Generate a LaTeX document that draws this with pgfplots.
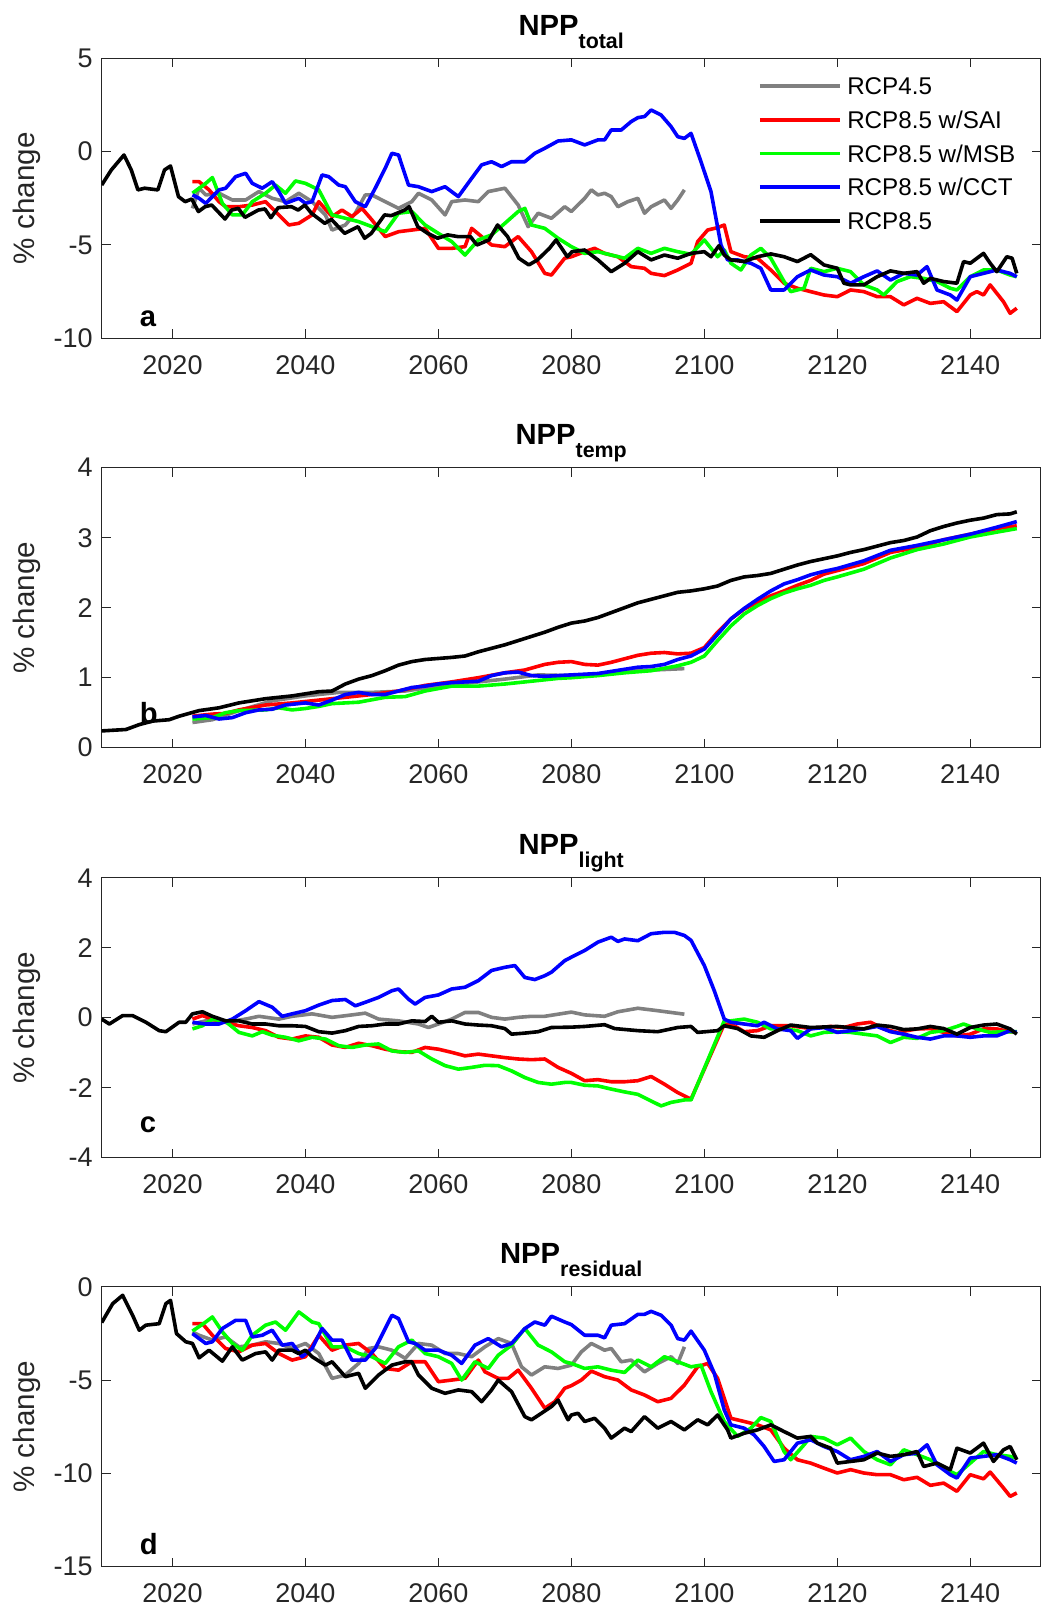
\documentclass[border=0pt]{standalone}
\usepackage{fontspec}
\setmainfont{Liberation Sans}
\usepackage{pgfplots}
\pgfplotsset{compat=1.18}
\definecolor{axgray}{rgb}{0.15,0.15,0.15}
\definecolor{cgray}{rgb}{0.5,0.5,0.5}
\definecolor{cred}{rgb}{1,0,0}
\definecolor{cgreen}{rgb}{0,1,0}
\definecolor{cblue}{rgb}{0,0,1}
\newcommand{\sub}[1]{\raisebox{-6.5pt}{\fontsize{10.7}{12}\selectfont\bfseries #1}}
\tikzset{plab/.style={anchor=base west, font=\fontsize{14.6}{17}\selectfont\bfseries}}
\pgfplotsset{
 panel/.style={
  width=469.5pt, height=140pt, scale only axis,
  xmin=2009.35, xmax=2150.6,
  xtick={2020,2040,2060,2080,2100,2120,2140},
  xticklabels={2020,2040,2060,2080,2100,2120,2140},
  minor tick num=0,
  tick align=inside,
  major tick length=4.5pt,
  axis line style={axgray, line width=0.5pt},
  every tick/.style={axgray, line width=0.5pt},
  ticklabel style={font=\fontsize{13.5}{16}\selectfont, text=axgray},
  xticklabel style={yshift=-5pt},
  yticklabel style={xshift=-1pt},
  ylabel={\% change},
  ylabel style={at={(axis description cs:-0.0795,0.5)}, anchor=center, font=\fontsize{14.8}{17}\selectfont, text=axgray},
  every axis title shift=0pt,
  title style={at={(axis description cs:0.5,1)}, anchor=base, yshift=11.5pt, font=\fontsize{14.6}{17}\selectfont\bfseries},
  every axis plot/.append style={line width=1.8pt, line join=round},
 }
}
\begin{document}
\begin{tikzpicture}
\useasboundingbox (0,0) rectangle (524pt,-806pt);

% ---------------- panel a
\begin{axis}[panel, at={(50.85pt,-29.15pt)}, anchor=north west,
  ymin=-10, ymax=5, ytick={-10,-5,0,5}, yticklabels={-10,-5,0,5},
  title={NPP\sub{total}},
  legend style={draw=none, fill=none, at={(axis description cs:0.699,0.932)}, anchor=north west,
    inner sep=0pt, outer sep=0pt, row sep=5.65pt, column sep=2.8pt,
    font=\fontsize{12.1}{14}\selectfont,
    nodes={inner sep=0pt, text height=8.7pt, text depth=2.5pt, anchor=base west},
    cells={anchor=base west}},
  legend image code/.code={\draw[#1] (0pt,4.3pt) -- (40pt,4.3pt);},
  legend entries={RCP4.5,RCP8.5 w/SAI,RCP8.5 w/MSB,RCP8.5 w/CCT,RCP8.5}]
\addplot[cgray] coordinates {(2023,-3.04) (2024,-1.96) (2025,-2.32) (2027,-2.23) (2029,-2.59) (2031,-2.59) (2033,-2.14) (2035,-2.5) (2037,-2.68) (2039,-2.23) (2041,-2.68) (2043,-3.39) (2044,-4.2) (2046,-3.93) (2047.5,-3.3) (2049,-2.32) (2050,-2.32) (2052,-2.68) (2054,-3.04) (2056,-2.68) (2057,-2.23) (2059,-2.59) (2061,-3.39) (2062,-2.68) (2064,-2.59) (2066,-2.68) (2067.5,-2.14) (2070,-1.96) (2072,-2.86) (2073.5,-4.02) (2075,-3.3) (2077,-3.57) (2079,-2.95) (2080,-3.21) (2082,-2.5) (2083,-2.05) (2084,-2.32) (2085,-2.23) (2086,-2.41) (2087,-2.95) (2088.5,-2.68) (2090,-2.5) (2091,-3.3) (2092,-2.95) (2094,-2.59) (2095,-3.04) (2096,-2.59) (2097,-2.05)};
\addplot[cred] coordinates {(2023,-1.61) (2024,-1.61) (2025.5,-2.05) (2027,-2.68) (2028,-2.95) (2030,-2.95) (2032,-2.86) (2034,-2.68) (2036,-3.39) (2037.5,-3.93) (2039,-3.84) (2041,-3.39) (2042,-2.68) (2044,-3.48) (2045.5,-3.13) (2047,-3.48) (2048.5,-3.04) (2050,-3.66) (2052,-4.55) (2054,-4.29) (2056,-4.2) (2058,-4.11) (2060,-5.18) (2062,-5.18) (2064,-5.09) (2065,-4.11) (2066.5,-4.55) (2068,-5.0) (2070,-5.09) (2072,-4.55) (2074,-5.36) (2076,-6.52) (2077,-6.61) (2079,-5.71) (2080,-5.63) (2082,-5.36) (2083.5,-5.18) (2085,-5.45) (2087,-5.63) (2089,-6.16) (2091,-6.25) (2092,-6.52) (2094,-6.64) (2096,-6.34) (2098,-5.98) (2099,-4.82) (2100.5,-4.2) (2102,-4.07) (2103,-3.93) (2104,-5.36) (2106,-5.63) (2108,-5.71) (2110,-6.34) (2112,-7.05) (2114,-7.32) (2116,-7.5) (2118,-7.68) (2120,-7.77) (2122,-7.41) (2124,-7.5) (2126,-7.77) (2128,-7.77) (2130,-8.21) (2132,-7.86) (2134,-8.13) (2136,-8.04) (2138,-8.57) (2140,-7.68) (2141,-7.5) (2142,-7.68) (2143,-7.14) (2145,-8.04) (2146,-8.66) (2147,-8.39)};
\addplot[cgreen] coordinates {(2023,-2.23) (2025,-1.7) (2026,-1.39) (2027.5,-2.77) (2029,-3.39) (2030.5,-3.39) (2032,-2.68) (2034,-2.23) (2035.5,-1.79) (2037,-2.23) (2038.5,-1.57) (2040,-1.7) (2042,-2.05) (2044,-3.39) (2046,-3.57) (2048,-3.75) (2050,-4.02) (2052,-4.29) (2054,-3.3) (2056,-3.21) (2058,-3.93) (2060,-4.38) (2062,-4.82) (2064,-5.54) (2066,-4.73) (2068,-4.46) (2070,-3.84) (2072,-3.21) (2073,-3.04) (2074,-3.93) (2076,-4.11) (2078,-4.64) (2080,-5.09) (2082,-5.45) (2084,-5.36) (2086,-5.54) (2088,-5.71) (2090,-5.18) (2092,-5.45) (2094,-5.18) (2096,-5.36) (2098,-5.5) (2100,-4.73) (2101,-5.18) (2102,-5.63) (2103,-5.27) (2104,-5.98) (2105.5,-6.34) (2107,-5.54) (2108.5,-5.18) (2110,-5.71) (2112,-6.96) (2113,-7.5) (2115,-7.32) (2116,-6.25) (2118,-6.43) (2120,-6.25) (2122,-6.43) (2124,-7.14) (2126,-7.41) (2127,-7.68) (2129,-6.96) (2131,-6.7) (2133,-6.79) (2135,-6.96) (2137,-7.32) (2138,-7.41) (2140,-6.7) (2142,-6.34) (2144,-6.34) (2146,-6.61) (2147,-6.7)};
\addplot[cblue] coordinates {(2023,-2.32) (2024,-2.5) (2025,-2.77) (2027,-2.05) (2028,-1.96) (2029.5,-1.34) (2031,-1.16) (2032,-1.7) (2033.5,-1.96) (2035,-1.61) (2036,-2.14) (2037,-2.77) (2039,-2.5) (2040,-2.77) (2041,-2.68) (2042.5,-1.25) (2043.5,-1.34) (2045,-1.79) (2046,-1.88) (2047.5,-2.68) (2049,-2.95) (2050.5,-1.96) (2052,-0.89) (2053,-0.09) (2054,-0.18) (2055.5,-1.79) (2057,-1.88) (2059,-2.14) (2061,-1.88) (2063,-2.41) (2065,-1.43) (2066.5,-0.71) (2068,-0.54) (2069.5,-0.8) (2071,-0.54) (2073,-0.54) (2074.5,-0.09) (2076,0.18) (2078,0.57) (2080,0.63) (2082,0.36) (2084,0.63) (2085,0.63) (2086,1.16) (2087.5,1.16) (2089,1.61) (2090,1.82) (2091,1.88) (2092,2.23) (2093.5,1.96) (2095,1.34) (2096,0.8) (2097,0.71) (2098,0.98) (2099.5,-0.54) (2101,-2.14) (2102.5,-5.0) (2103.5,-5.8) (2105,-5.8) (2107,-5.98) (2108.5,-6.25) (2110,-7.41) (2112,-7.41) (2114,-6.7) (2116,-6.34) (2118,-6.61) (2120,-6.7) (2122,-7.05) (2124,-6.7) (2126,-6.39) (2128,-6.88) (2130,-6.52) (2132,-6.61) (2133.5,-6.16) (2135,-7.41) (2137,-7.68) (2138,-7.95) (2140,-6.7) (2142,-6.52) (2144,-6.34) (2146,-6.52) (2147,-6.7)};
\addplot[black] coordinates {(2009.35,-1.79) (2010.8,-0.98) (2012.7,-0.18) (2013.8,-0.98) (2014.8,-2.05) (2015.8,-1.96) (2017.8,-2.05) (2018.8,-0.98) (2019.7,-0.77) (2020.9,-2.41) (2021.9,-2.68) (2022.9,-2.54) (2023.9,-3.21) (2024.9,-2.95) (2025.9,-2.86) (2027.9,-3.61) (2028.9,-3.13) (2029.9,-3.04) (2030.9,-3.52) (2032.9,-3.13) (2033.9,-3.07) (2034.8,-3.54) (2035.9,-3.0) (2037.9,-2.95) (2038.9,-3.13) (2039.9,-2.86) (2040.9,-3.3) (2042.9,-3.84) (2043.9,-3.63) (2045.9,-4.38) (2047.9,-4.02) (2048.9,-4.64) (2049.9,-4.38) (2051.9,-3.39) (2052.9,-3.43) (2054.9,-3.13) (2055.6,-2.95) (2056.9,-4.02) (2058.4,-4.38) (2059.9,-4.64) (2061.4,-4.46) (2062.9,-4.55) (2064.8,-4.55) (2065.8,-5.0) (2067.6,-4.73) (2068.9,-3.93) (2070.4,-4.55) (2072.1,-5.71) (2073.6,-6.07) (2074.9,-5.8) (2076.7,-5.18) (2077.7,-4.73) (2079.4,-5.63) (2080.1,-5.36) (2082,-5.27) (2084,-5.8) (2086,-6.43) (2088,-5.98) (2090,-5.36) (2092,-5.8) (2094,-5.54) (2096,-5.71) (2098,-5.45) (2100,-5.36) (2101,-5.63) (2102.2,-5.04) (2103,-5.54) (2104,-5.8) (2106,-5.89) (2108,-5.63) (2110,-5.48) (2112,-5.63) (2114,-5.89) (2116,-5.52) (2118,-6.07) (2120,-6.25) (2121,-7.05) (2122,-7.14) (2124,-7.14) (2126,-6.7) (2128,-6.39) (2130,-6.52) (2132,-6.43) (2133,-7.05) (2134,-6.79) (2136,-6.96) (2138,-7.05) (2139,-5.89) (2140,-5.98) (2142,-5.45) (2143,-5.98) (2144,-6.43) (2145.5,-5.63) (2146.3,-5.71) (2147,-6.52)};
\node[plab] at (rel axis cs:0.033,0.042) {a};
\end{axis}

% ---------------- panel b
\begin{axis}[panel, at={(50.85pt,-233.85pt)}, anchor=north west,
  ymin=0, ymax=4, ytick={0,1,2,3,4}, yticklabels={0,1,2,3,4},
  title={NPP\sub{temp}}]
\addplot[cgray] coordinates {(2023,0.36) (2026,0.40) (2030,0.53) (2035,0.67) (2040,0.74) (2045,0.79) (2050,0.79) (2055,0.81) (2060,0.88) (2065,0.93) (2070,0.98) (2075,1.04) (2080,1.03) (2085,1.06) (2090,1.10) (2097,1.13)};
\addplot[cred] coordinates {(2023,0.45) (2026,0.48) (2028,0.49) (2030,0.54) (2034,0.61) (2038,0.64) (2042,0.68) (2046,0.72) (2050,0.76) (2054,0.81) (2058,0.89) (2062,0.94) (2066,1.00) (2070,1.07) (2073,1.11) (2076,1.19) (2078,1.22) (2080,1.23) (2082,1.19) (2084,1.18) (2086,1.22) (2088,1.27) (2090,1.32) (2092,1.35) (2094,1.36) (2096,1.34) (2098,1.35) (2100,1.43) (2102,1.65) (2104,1.84) (2106,1.98) (2108,2.08) (2110,2.17) (2112,2.24) (2114,2.32) (2116,2.39) (2118,2.48) (2120,2.53) (2124,2.63) (2128,2.79) (2132,2.86) (2136,2.97) (2140,3.05) (2144,3.13) (2147,3.17)};
\addplot[cgreen] coordinates {(2023,0.41) (2026,0.43) (2028,0.50) (2030,0.53) (2034,0.54) (2036,0.57) (2038,0.54) (2040,0.56) (2042,0.59) (2044,0.63) (2048,0.65) (2052,0.72) (2055,0.73) (2058,0.81) (2062,0.88) (2066,0.88) (2070,0.91) (2074,0.95) (2078,0.99) (2080,1.00) (2084,1.03) (2088,1.07) (2092,1.10) (2096,1.17) (2098,1.22) (2100,1.31) (2102,1.53) (2104,1.74) (2106,1.91) (2108,2.03) (2110,2.13) (2112,2.21) (2114,2.27) (2116,2.32) (2118,2.39) (2120,2.44) (2124,2.55) (2128,2.71) (2132,2.83) (2136,2.91) (2140,3.01) (2144,3.08) (2147,3.13)};
\addplot[cblue] coordinates {(2023,0.44) (2025,0.46) (2027,0.41) (2029,0.43) (2031,0.50) (2033,0.54) (2035,0.55) (2037,0.61) (2040,0.64) (2042,0.61) (2044,0.68) (2046,0.76) (2048,0.79) (2050,0.76) (2052,0.76) (2054,0.81) (2056,0.86) (2058,0.88) (2060,0.91) (2062,0.93) (2066,0.95) (2068,1.03) (2070,1.07) (2072,1.08) (2074,1.03) (2076,1.02) (2080,1.04) (2084,1.06) (2086,1.09) (2088,1.12) (2090,1.15) (2092,1.16) (2094,1.19) (2096,1.26) (2098,1.31) (2100,1.41) (2102,1.62) (2104,1.84) (2106,1.99) (2108,2.12) (2110,2.24) (2112,2.34) (2114,2.40) (2116,2.47) (2118,2.52) (2120,2.56) (2124,2.67) (2128,2.82) (2132,2.89) (2136,2.97) (2140,3.05) (2144,3.15) (2147,3.23)};
\addplot[black] coordinates {(2009.35,0.24) (2013,0.26) (2015,0.33) (2017,0.38) (2019.5,0.40) (2021,0.45) (2024,0.53) (2027,0.57) (2030,0.64) (2034,0.70) (2038,0.74) (2042,0.80) (2044,0.81) (2046,0.91) (2048,0.98) (2050,1.03) (2052,1.10) (2054,1.18) (2056,1.23) (2058,1.26) (2062,1.29) (2064,1.31) (2066,1.37) (2068,1.42) (2070,1.47) (2072,1.53) (2074,1.59) (2076,1.65) (2078,1.72) (2080,1.78) (2082,1.81) (2084,1.86) (2086,1.93) (2088,2.00) (2090,2.07) (2092,2.12) (2094,2.17) (2096,2.22) (2098,2.24) (2100,2.27) (2102,2.31) (2104,2.39) (2106,2.44) (2108,2.46) (2110,2.49) (2112,2.55) (2114,2.61) (2116,2.66) (2118,2.70) (2120,2.74) (2122,2.79) (2124,2.83) (2126,2.88) (2128,2.93) (2130,2.96) (2132,3.01) (2134,3.10) (2136,3.16) (2138,3.21) (2140,3.25) (2142,3.28) (2144,3.33) (2146,3.34) (2147,3.37)};
\node[plab] at (rel axis cs:0.033,0.087) {b};
\end{axis}

% ---------------- panel c
\begin{axis}[panel, at={(50.85pt,-438.85pt)}, anchor=north west,
  ymin=-4, ymax=4, ytick={-4,-2,0,2,4}, yticklabels={-4,-2,0,2,4},
  title={NPP\sub{light}}]
\addplot[cgray] coordinates {(2023,-0.18) (2025,-0.09) (2028,-0.13) (2031,-0.04) (2033,0.04) (2036,-0.04) (2038,0.04) (2041,0.11) (2044,0.01) (2047,0.08) (2049,0.13) (2051,-0.04) (2054,-0.09) (2057,-0.18) (2058.5,-0.28) (2060,-0.18) (2062,-0.04) (2064,0.15) (2066,0.15) (2068,0.01) (2070,-0.04) (2072,0.01) (2074,0.04) (2076,0.04) (2078,0.10) (2080,0.16) (2082,0.08) (2085,0.04) (2087,0.17) (2090,0.27) (2093,0.20) (2097,0.10)};
\addplot[cred] coordinates {(2023,-0.04) (2024.5,0.06) (2026,-0.04) (2028,-0.13) (2030,-0.23) (2032,-0.28) (2034,-0.37) (2036,-0.56) (2038,-0.61) (2040,-0.52) (2042,-0.56) (2044,-0.78) (2046,-0.85) (2048,-0.73) (2050,-0.80) (2052,-0.90) (2054,-0.97) (2056,-0.99) (2058,-0.85) (2060,-0.90) (2062,-0.99) (2064,-1.09) (2066,-1.04) (2068,-1.09) (2070,-1.14) (2072,-1.18) (2074,-1.20) (2076,-1.18) (2078,-1.42) (2080,-1.59) (2082,-1.80) (2084,-1.77) (2086,-1.83) (2088,-1.83) (2090,-1.80) (2092,-1.68) (2094,-1.90) (2096,-2.14) (2098,-2.33) (2103,-0.18) (2104.5,-0.23) (2106,-0.40) (2108,-0.37) (2110,-0.23) (2113,-0.23) (2116,-0.31) (2119,-0.25) (2121,-0.28) (2123,-0.18) (2125,-0.13) (2127,-0.32) (2129,-0.42) (2132,-0.32) (2134,-0.31) (2136,-0.42) (2138,-0.52) (2140,-0.47) (2142,-0.32) (2144,-0.32) (2146,-0.40) (2147,-0.42)};
\addplot[cgreen] coordinates {(2023,-0.32) (2024.5,-0.23) (2026,-0.04) (2028,-0.11) (2030,-0.42) (2032,-0.52) (2033.5,-0.40) (2035,-0.50) (2037,-0.56) (2039,-0.66) (2041,-0.56) (2043,-0.61) (2045,-0.80) (2047,-0.85) (2049,-0.78) (2051,-0.75) (2053,-0.95) (2055,-0.99) (2057,-0.95) (2059,-1.18) (2061,-1.37) (2063,-1.47) (2065,-1.42) (2067,-1.36) (2069,-1.37) (2071,-1.52) (2073,-1.71) (2075,-1.85) (2077,-1.90) (2079,-1.85) (2080,-1.85) (2082,-1.93) (2084,-1.95) (2086,-2.04) (2088,-2.12) (2090,-2.19) (2092,-2.38) (2093.5,-2.52) (2095,-2.42) (2097,-2.35) (2098,-2.35) (2103,-0.09) (2104,-0.09) (2106,-0.04) (2108,-0.13) (2110,-0.32) (2112,-0.32) (2114,-0.37) (2116,-0.52) (2118,-0.42) (2120,-0.40) (2122,-0.42) (2124,-0.47) (2126,-0.52) (2128,-0.71) (2130,-0.56) (2132,-0.59) (2134,-0.42) (2136,-0.37) (2138,-0.25) (2139,-0.18) (2141,-0.32) (2143,-0.42) (2145,-0.40) (2147,-0.40)};
\addplot[cblue] coordinates {(2023,-0.13) (2025,-0.18) (2027,-0.18) (2029,-0.04) (2031,0.20) (2033,0.46) (2035,0.30) (2036.5,0.04) (2038,0.11) (2040,0.20) (2042,0.36) (2044,0.49) (2046,0.52) (2047.5,0.34) (2049,0.44) (2051,0.58) (2053,0.77) (2054,0.82) (2055.5,0.53) (2056.5,0.39) (2058,0.58) (2060,0.65) (2062,0.82) (2064,0.87) (2066,1.06) (2068,1.35) (2070,1.44) (2071.5,1.49) (2073,1.15) (2074.5,1.09) (2076,1.20) (2077,1.30) (2079,1.63) (2080,1.73) (2082,1.92) (2084,2.16) (2086,2.30) (2087,2.18) (2088,2.25) (2090,2.20) (2092,2.40) (2094,2.44) (2095.5,2.44) (2097,2.35) (2098,2.21) (2100,1.49) (2101.5,0.77) (2103,-0.04) (2104,-0.13) (2106,-0.18) (2108,-0.23) (2109,-0.13) (2111,-0.32) (2113,-0.37) (2114,-0.59) (2116,-0.32) (2118,-0.28) (2120,-0.42) (2122,-0.37) (2124,-0.32) (2126,-0.25) (2128,-0.40) (2130,-0.47) (2132,-0.56) (2134,-0.61) (2136,-0.52) (2138,-0.52) (2140,-0.56) (2142,-0.52) (2144,-0.52) (2146,-0.37) (2147,-0.42)};
\addplot[black] coordinates {(2009.35,-0.04) (2010.5,-0.18) (2012.5,0.06) (2014,0.06) (2016,-0.13) (2018,-0.37) (2019,-0.40) (2021,-0.13) (2022,-0.13) (2023,0.11) (2024.5,0.17) (2026,0.04) (2028,-0.09) (2030,-0.09) (2032,-0.18) (2034,-0.18) (2036,-0.23) (2038,-0.23) (2040,-0.25) (2042,-0.40) (2044,-0.44) (2046,-0.37) (2048,-0.25) (2050,-0.23) (2052,-0.18) (2054,-0.18) (2056,-0.09) (2058,-0.11) (2059,0.04) (2060,-0.13) (2062,-0.09) (2064,-0.18) (2066,-0.21) (2068,-0.23) (2070,-0.31) (2071,-0.47) (2073,-0.44) (2075,-0.40) (2077,-0.28) (2080,-0.27) (2082,-0.25) (2085,-0.20) (2086.5,-0.31) (2090,-0.37) (2093,-0.40) (2096,-0.28) (2098,-0.25) (2099,-0.42) (2102,-0.37) (2103,-0.23) (2105,-0.31) (2107,-0.52) (2109,-0.56) (2111,-0.37) (2113,-0.21) (2116,-0.28) (2120,-0.25) (2124,-0.32) (2126,-0.21) (2128,-0.25) (2130,-0.34) (2132,-0.32) (2134,-0.25) (2136,-0.31) (2138,-0.47) (2140,-0.28) (2142,-0.21) (2144,-0.18) (2146,-0.32) (2147,-0.47)};
\node[plab] at (rel axis cs:0.033,0.089) {c};
\end{axis}

% ---------------- panel d
\begin{axis}[panel, at={(50.85pt,-643.35pt)}, anchor=north west,
  ymin=-15, ymax=0, ytick={-15,-10,-5,0}, yticklabels={-15,-10,-5,0},
  title={NPP\sub{residual}}]
\addplot[cgray] coordinates {(2023,-2.42) (2024,-2.60) (2026,-2.86) (2028,-2.69) (2030,-3.22) (2032,-3.13) (2034,-2.95) (2036,-3.04) (2038,-3.31) (2040,-3.04) (2042,-3.58) (2044,-4.91) (2046,-4.73) (2048,-4.11) (2049.5,-3.31) (2051,-3.22) (2053,-3.40) (2055,-3.84) (2057,-3.04) (2059,-3.13) (2061,-3.58) (2063,-3.58) (2065,-3.75) (2067,-3.22) (2069,-2.78) (2071,-3.04) (2072.5,-4.29) (2074,-4.73) (2076,-4.29) (2078,-4.38) (2080,-4.20) (2081.5,-3.49) (2083,-3.04) (2085,-3.40) (2086,-3.31) (2087.5,-4.02) (2089,-3.93) (2091,-4.56) (2093,-4.11) (2095,-3.75) (2096,-4.11) (2097,-3.22)};
\addplot[cred] coordinates {(2023,-1.98) (2024.5,-1.98) (2026,-2.60) (2028,-3.31) (2030,-3.49) (2032,-3.13) (2034,-3.04) (2036,-3.58) (2038,-3.93) (2040,-3.75) (2042,-2.60) (2044,-3.40) (2046,-3.13) (2048,-3.04) (2050,-3.58) (2052,-4.38) (2054,-4.47) (2056,-4.02) (2058,-4.02) (2060,-5.09) (2062,-5.00) (2064,-4.91) (2066,-3.93) (2067,-4.56) (2069,-4.91) (2070.5,-4.91) (2072,-4.47) (2074,-5.44) (2076,-6.51) (2077.5,-6.16) (2079,-5.44) (2080,-5.30) (2081.5,-5.00) (2083,-4.52) (2085,-4.82) (2087,-5.00) (2089,-5.53) (2091,-5.80) (2093,-6.16) (2095,-5.98) (2097,-5.27) (2099,-4.29) (2100.5,-4.11) (2102,-4.91) (2104,-7.05) (2106,-7.22) (2108,-7.40) (2110,-7.67) (2112,-8.65) (2114,-9.27) (2116,-9.45) (2118,-9.72) (2120,-9.98) (2122,-9.80) (2124,-9.98) (2126,-10.07) (2128,-10.07) (2130,-10.34) (2132,-10.21) (2134,-10.64) (2136,-10.52) (2138,-10.96) (2140,-10.07) (2142,-10.29) (2143,-9.93) (2145,-10.78) (2146,-11.23) (2147,-11.05)};
\addplot[cgreen] coordinates {(2023,-2.38) (2025,-1.89) (2026,-1.62) (2027.5,-2.42) (2029,-3.04) (2030.5,-3.40) (2032,-2.60) (2034,-2.06) (2035.5,-1.89) (2037,-2.33) (2039,-1.35) (2041,-1.89) (2042,-1.98) (2044,-3.22) (2046,-3.22) (2048,-3.58) (2050,-3.75) (2052,-4.11) (2054,-3.22) (2056,-2.86) (2058,-3.58) (2060,-3.75) (2062,-4.11) (2063.5,-5.00) (2065.5,-4.02) (2067.5,-4.38) (2069,-3.67) (2071,-3.13) (2073,-2.24) (2075,-3.13) (2077,-3.49) (2079,-4.02) (2080,-4.11) (2082,-4.38) (2084,-4.29) (2086,-4.47) (2088,-4.59) (2090,-3.93) (2092,-4.29) (2094,-3.75) (2096,-4.02) (2098,-4.29) (2099.5,-4.20) (2101,-5.62) (2103,-7.22) (2105,-8.02) (2107,-7.58) (2108.5,-7.01) (2110,-7.22) (2112,-8.83) (2113,-9.27) (2115,-8.47) (2116,-8.02) (2118,-8.11) (2120,-8.47) (2122,-8.11) (2124,-8.83) (2126,-9.27) (2128,-9.54) (2130,-8.74) (2132,-9.00) (2134,-9.27) (2136,-9.72) (2138,-10.07) (2140,-9.45) (2142,-8.83) (2144,-9.00) (2146,-9.09) (2147,-9.18)};
\addplot[cblue] coordinates {(2023,-2.51) (2025,-3.04) (2026,-2.95) (2027.5,-2.24) (2029.5,-1.80) (2031,-1.80) (2032,-2.69) (2033.5,-2.60) (2035,-2.33) (2036.5,-3.13) (2038,-3.04) (2039.5,-3.75) (2041,-3.31) (2042.5,-2.24) (2044,-2.86) (2045.5,-2.86) (2047,-3.93) (2049,-3.93) (2050.5,-3.31) (2052,-2.24) (2053,-1.53) (2054,-1.71) (2055.5,-2.95) (2056.5,-3.04) (2058,-3.40) (2060,-3.40) (2062,-3.67) (2063.5,-4.11) (2065.5,-3.13) (2067.5,-2.78) (2069.5,-3.22) (2071,-3.04) (2073,-2.24) (2074.5,-1.89) (2076,-2.06) (2077,-1.58) (2079,-1.89) (2080,-2.03) (2082,-2.60) (2084,-2.60) (2085,-2.74) (2086,-2.06) (2088,-1.98) (2090,-1.48) (2091,-1.48) (2092,-1.32) (2093.5,-1.53) (2095,-2.06) (2096,-2.78) (2097,-2.86) (2098,-2.38) (2100,-3.40) (2101.5,-4.64) (2103,-6.60) (2104,-7.40) (2106,-7.58) (2107.5,-7.94) (2109,-8.56) (2110.5,-9.36) (2112,-9.27) (2114,-8.38) (2116,-8.20) (2118,-8.56) (2120,-8.83) (2122,-9.27) (2124,-9.09) (2126,-8.83) (2128,-9.36) (2130,-9.00) (2132,-8.92) (2133.5,-8.47) (2135,-9.54) (2137,-10.07) (2138,-10.25) (2140,-9.18) (2142,-9.09) (2144,-9.00) (2146,-9.27) (2147,-9.45)};
\addplot[black] coordinates {(2009.35,-1.92) (2011,-0.91) (2012.5,-0.46) (2014,-1.53) (2015,-2.33) (2016,-2.06) (2018,-1.98) (2019,-0.91) (2019.7,-0.73) (2020.6,-2.51) (2022,-2.95) (2023,-3.04) (2024,-3.81) (2025.5,-3.40) (2027.5,-3.99) (2029,-3.22) (2030.5,-3.93) (2032.5,-3.58) (2034,-3.49) (2035,-3.93) (2036,-3.40) (2038,-3.40) (2039,-3.58) (2040,-3.40) (2041,-3.75) (2043,-4.20) (2044,-4.02) (2046,-4.82) (2048,-4.64) (2049,-5.44) (2051,-4.73) (2053,-4.20) (2055,-4.02) (2056,-4.02) (2057,-4.73) (2059,-5.44) (2061,-5.71) (2063,-5.53) (2065,-5.62) (2066.5,-6.16) (2068,-5.53) (2069,-5.00) (2071,-5.62) (2073,-6.96) (2074,-7.13) (2075.5,-6.78) (2077,-6.42) (2078,-6.07) (2079.5,-7.13) (2080,-6.87) (2081,-6.78) (2082,-7.22) (2083.5,-7.05) (2085,-7.58) (2086,-8.11) (2088,-7.58) (2089,-7.76) (2091,-6.96) (2093,-7.58) (2095,-7.22) (2097,-7.67) (2099,-7.13) (2100.5,-7.40) (2102,-6.87) (2103.5,-7.67) (2104,-8.11) (2106,-7.85) (2108,-7.67) (2110,-7.40) (2112,-7.76) (2114,-8.11) (2116,-8.02) (2117,-8.38) (2119,-8.65) (2120,-9.45) (2122,-9.36) (2124,-9.27) (2126,-8.91) (2128,-9.09) (2130,-9.00) (2132,-8.83) (2133,-9.63) (2135,-9.45) (2137,-9.80) (2138,-8.65) (2140,-8.91) (2142,-8.38) (2143.5,-9.36) (2145,-8.74) (2146,-8.56) (2147,-9.27)};
\node[plab] at (rel axis cs:0.033,0.044) {d};
\end{axis}
\end{tikzpicture}
\end{document}
